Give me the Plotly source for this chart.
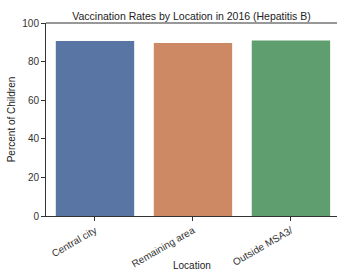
import plotly.graph_objects as go

locations = ["Central city", "Remaining area", "Outside MSA3/"]
rates = [90.7, 89.6, 90.9]
colors = ["#5975a4", "#cc8963", "#5f9e6e"]

fig = go.Figure(go.Bar(x=[0, 1, 2], y=rates, marker_color=colors, width=0.8,
                       marker_line_width=0, hoverinfo="skip"))

FONT = "Liberation Sans, Arial"
axis_font = dict(family=FONT, size=10, color="#333333")
fig.update_layout(
    width=337, height=273, autosize=False,
    margin=dict(l=46, r=0, t=23, b=57, autoexpand=False),
    plot_bgcolor="white", paper_bgcolor="white",
    showlegend=False,
    title=dict(text="Vaccination Rates by Location in 2016 (Hepatitis B)",
               x=0.5, xref="paper", xanchor="center", y=1, yref="paper", yanchor="bottom",
               pad=dict(b=3), automargin=False,
               font=dict(family=FONT, size=10.5, color="#222222")),
    xaxis=dict(range=[-0.5, 2.47], tickmode="array", tickvals=[0, 1, 2], ticktext=locations,
               tickangle=-30, ticks="outside", ticklen=4, tickcolor="#333333",
               showline=True, linecolor="#333333", linewidth=1, mirror=False, automargin=False,
               showgrid=False, zeroline=False, tickfont=axis_font),
    yaxis=dict(range=[0, 100], tickvals=[0, 20, 40, 60, 80, 100], ticks="outside", ticklen=4,
               tickcolor="#333333", showline=True, linecolor="#333333", linewidth=1, automargin=False,
               showgrid=False, zeroline=False, tickfont=axis_font,
               title=dict(text="Percent of Children", font=dict(family=FONT, size=10, color="#222222"), standoff=4)),
    annotations=[dict(text="Location", xref="paper", yref="paper", x=0.5, y=-0.295,
                      xanchor="center", yanchor="bottom", showarrow=False,
                      font=dict(family=FONT, size=10, color="#222222"))],
)
fig.add_shape(type="line", xref="paper", yref="paper", x0=0, x1=1, y0=1, y1=1,
              line=dict(color="#333333", width=1))

fig.write_html("out.html", config={"displayModeBar": False},
               post_script="document.body.style.margin='0';document.body.style.overflow='hidden';")
